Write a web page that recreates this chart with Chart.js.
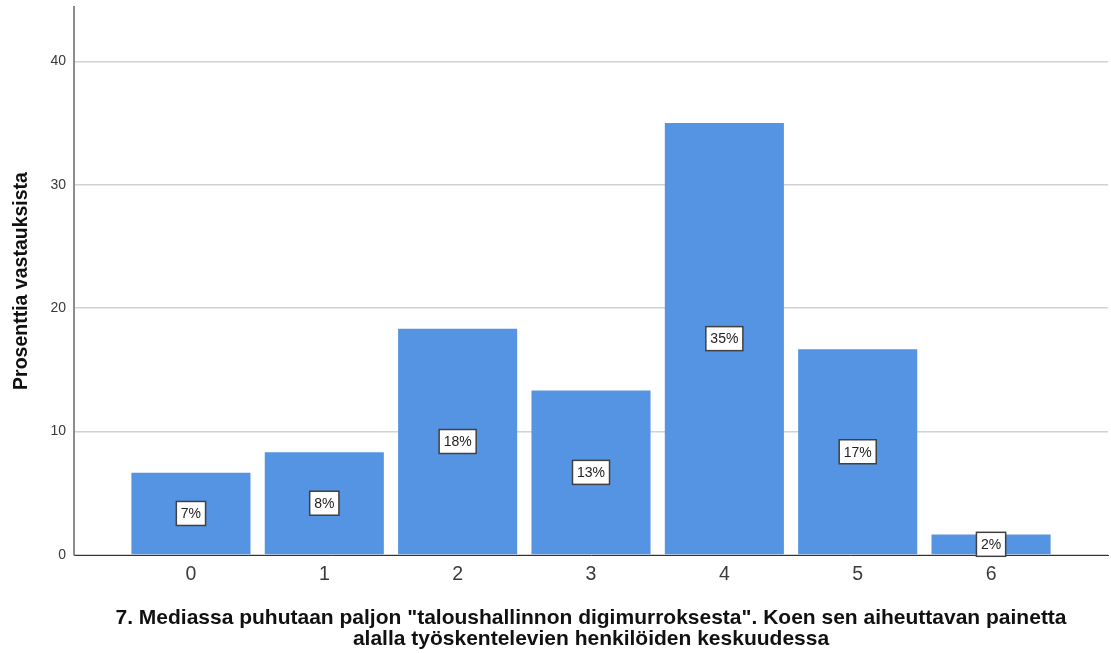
<!DOCTYPE html>
<html>
<head>
<meta charset="utf-8">
<script src="https://cdn.jsdelivr.net/npm/chart.js@4"></script>
<style>
  body { margin: 0; background: #fff; }
  #wrap { width: 1111px; height: 653px; position: relative; }
</style>
</head>
<body>
<div id="wrap"><canvas id="chart"></canvas></div>
<script>
// data (percent of answers, n = 60)
const categories = ['0', '1', '2', '3', '4', '5', '6'];
const percents = [6.67, 8.33, 18.33, 13.33, 35.0, 16.67, 1.67];
const yTicks = [0, 10, 20, 30, 40];
const yTitle = 'Prosenttia vastauksista';
const xTitle = [
    '7. Mediassa puhutaan paljon "taloushallinnon digimurroksesta". Koen sen aiheuttavan painetta',
    'alalla työskentelevien henkilöiden keskuudessa'
];

const barColor = '#5594e3';
const textColor = '#3a3a3a';

// white boxed percent label in the middle of every bar
const boxLabels = {
    id: 'boxLabels',
    afterDatasetsDraw(chart) {
        const ctx = chart.ctx;
        const meta = chart.getDatasetMeta(0);
        ctx.save();
        ctx.font = '14px "Liberation Sans", Arial, sans-serif';
        ctx.textAlign = 'center';
        ctx.textBaseline = 'middle';
        meta.data.forEach((bar, i) => {
            const text = Math.round(percents[i]) + '%';
            const cy = (bar.y + bar.base) / 2;
            const w = ctx.measureText(text).width + 9;
            const h = 24;
            ctx.fillStyle = '#ffffff';
            ctx.fillRect(bar.x - w / 2, cy - h / 2, w, h);
            ctx.lineWidth = 1.5;
            ctx.strokeStyle = '#404040';
            ctx.strokeRect(bar.x - w / 2, cy - h / 2, w, h);
            ctx.fillStyle = '#222';
            ctx.fillText(text, bar.x, cy + 1);
        });
        ctx.restore();
    }
};

const ctx = document.getElementById('chart').getContext('2d');
new Chart(ctx, {
    type: 'bar',
    data: {
        datasets: [{
            data: categories.map((c, i) => ({ x: i, y: percents[i] })),
            backgroundColor: barColor,
            borderWidth: 0,
            categoryPercentage: 0.893,
            barPercentage: 1
        }]
    },
    options: {
        responsive: true,
        maintainAspectRatio: false,
        animation: false,
        layout: { padding: { left: 0, top: 7, right: 3, bottom: 0 } },
        plugins: {
            legend: { display: false },
            tooltip: { enabled: false }
        },
        scales: {
            x: {
                type: 'linear',
                offset: false,
                min: -0.877,
                max: categories.length - 1 + 0.877,
                afterBuildTicks: (scale) => {
                    scale.ticks = categories.map((c, i) => ({ value: i }));
                },
                afterFit: (scale) => {
                    scale.height = 98;
                    scale.paddingLeft = 0;
                    scale.paddingRight = 0;
                },
                grid: { display: false, drawTicks: false },
                border: { display: true, color: '#333333', width: 1 },
                ticks: {
                    padding: 8,
                    color: textColor,
                    font: { family: '"Liberation Sans", Arial, sans-serif', size: 19.5 },
                    callback: (v) => categories[v]
                },
                title: {
                    display: true,
                    text: xTitle,
                    color: '#111',
                    padding: { top: 0, bottom: 3.5 },
                    font: { family: '"Liberation Sans", Arial, sans-serif', size: 21, weight: 'bold', lineHeight: '21px' }
                }
            },
            y: {
                min: 0,
                max: 44.4,
                afterBuildTicks: (scale) => {
                    scale.ticks = yTicks.map(v => ({ value: v }));
                },
                afterFit: (scale) => {
                    scale.width = 74;
                    scale.paddingTop = 0;
                    scale.paddingBottom = 0;
                },
                grid: { color: '#d2d2d2', lineWidth: 1.5, drawTicks: false },
                border: { display: true, color: '#8c8c8c', width: 2 },
                ticks: {
                    padding: 8,
                    color: textColor,
                    font: { family: '"Liberation Sans", Arial, sans-serif', size: 14 }
                },
                title: {
                    display: true,
                    text: yTitle,
                    color: '#111',
                    padding: { top: 12, bottom: 0 },
                    font: { family: '"Liberation Sans", Arial, sans-serif', size: 19.5, weight: 'bold', lineHeight: '20px' }
                }
            }
        }
    },
    plugins: [boxLabels]
});
</script>
</body>
</html>
